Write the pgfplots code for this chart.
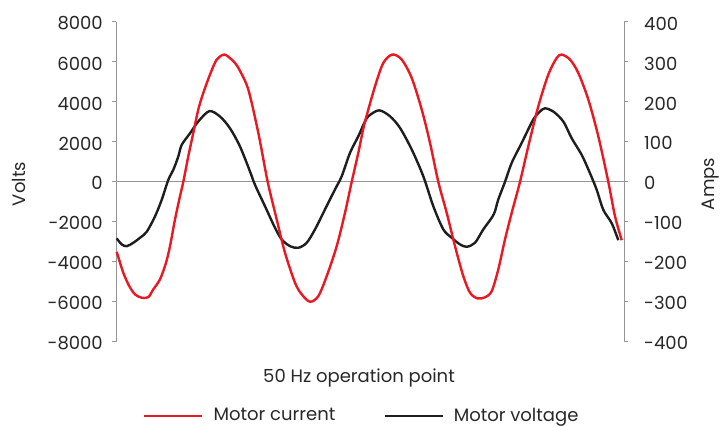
\documentclass[border=0pt]{standalone}
\usepackage{pgfplots}
\pgfplotsset{compat=1.18}
\usepackage{fontspec}
\setmainfont{Poppins}
\definecolor{abbred}{RGB}{232,25,35}
\definecolor{volt}{RGB}{30,30,30}
\definecolor{axgray}{RGB}{150,150,150}
\definecolor{txt}{RGB}{40,40,40}

\pgfplotstableread{
x v
116.7 -2830
121.7 -3130
126.7 -3220
133.3 -3050
140 -2800
146.7 -2500
155 -1730
161.7 -900
168.3 100
173.3 600
178.3 1270
181.7 1850
190 2430
198.3 3020
209.3 3540
220 3270
230 2680
240 1770
250 520
255 -150
265 -1220
275 -2300
281.7 -2880
290 -3220
298.3 -3300
306.7 -3050
315 -2380
325 -1380
335 -380
341.7 280
350 1450
358.3 2280
364.3 2950
368.3 3280
379 3580
390 3280
400 2700
411.7 1620
423.3 280
433.3 -1220
443.3 -2380
451.7 -2800
460 -3130
466.7 -3250
475 -3050
483.3 -2380
491.7 -1800
495 -1470
498.3 -880
505 0
511.7 950
521.7 1950
533.3 3120
540 3520
545 3680
553.3 3520
563.3 3020
571.7 2180
581.7 1350
590 430
596.7 -400
603.3 -1400
611.7 -2070
618.3 -2920
}\voltage

\pgfplotstableread{
x a
116.7 -175
123.3 -227.5
129.3 -261
135 -281.5
141.7 -290
148.3 -288.5
153.3 -269
160 -244
166 -202.5
170 -161
175 -94
180 -36
183.3 0
188.3 64
193.3 122.5
198.3 181
203.3 222.5
210 268.5
216.7 306
224.3 318.5
231.7 306
235 297.5
239.3 281
248.3 231
258.3 122.5
267.7 0
276.7 -94
285 -177.5
295 -252.5
301.7 -281.5
310 -300
318.3 -286
326.7 -236
336.7 -161
345 -77.5
351.7 0
358.3 72.5
364.3 143.5
375 239
383.3 297.5
392.3 318.5
401.7 306
411.7 260
421.7 181
430 97.5
438.3 0
446.7 -77.5
455 -161
463.3 -236
470 -277.5
477.3 -291.5
485 -289
491.7 -273.5
498.3 -219
505 -144
511.7 -77.5
520 0
528.3 89
538.3 189
548.3 268.5
556.7 310
561.7 318.5
570 306
578.3 272.5
588.3 206
598.3 114
608.3 0
615 -86
621.7 -146
}\current

\begin{document}
\fontsize{18bp}{21bp}\selectfont
\begin{tikzpicture}
\useasboundingbox (0,0) rectangle (720bp,427bp);
\pgfplotsset{base/.style={
  at={(116bp,85.3bp)}, anchor=south west, scale only axis,
  width=508bp, height=319.7bp,
  xmin=116, xmax=624, axis x line=none,
  tick align=outside, major tick length=4bp,
  axis line style={draw=axgray, line width=1bp, -},
  every tick/.style={axgray, line width=1bp},
  ticklabel style={font=\fontsize{18bp}{21bp}\selectfont, text=txt},
  clip=false
}}
\begin{axis}[base, axis y line*=left,
  ymin=-8000, ymax=8000,
  ytick={-8000,-6000,-4000,-2000,0,2000,4000,6000,8000},
  yticklabels={-8000,-6000,-4000,-2000,0,2000,4000,6000,8000},
  yticklabel style={anchor=east, xshift=-3bp, yshift=-1.5bp}]
\addplot[axgray, line width=1bp] coordinates {(116,0) (624,0)};
\addplot[volt, line width=2.4bp, smooth] table[x=x, y=v] {\voltage};
\end{axis}
\begin{axis}[base, axis y line*=right,
  ymin=-400, ymax=400,
  ytick={-400,-300,-200,-100,0,100,200,300,400},
  yticklabels={-400,-300,-200,-100,0,100,200,300,400},
  yticklabel style={anchor=west, xshift=10bp, yshift=-1.5bp},
  legend style={at={(0.482,-0.232)}, anchor=center, draw=none, fill=none,
    legend columns=2, font=\fontsize{18bp}{21bp}\selectfont, text=txt,
    nodes={inner sep=0pt},
    /tikz/every odd column/.append style={column sep=10bp},
    /tikz/every even column/.append style={column sep=48bp}},
  legend image code/.code={\draw[#1, line width=2.4bp] (0bp,0bp) -- (58bp,0bp);}]
\addplot[abbred, line width=2.4bp, smooth] table[x=x, y=a] {\current};
\addlegendentry{Motor current}
\addlegendimage{volt, line width=2.4bp}
\addlegendentry{Motor voltage}
\end{axis}
\node[anchor=base, text=txt] at (359bp,44.3bp) {50 Hz operation point};
\node[rotate=90, anchor=base, text=txt] at (25bp,243bp) {Volts};
\node[rotate=90, anchor=base, text=txt] at (714bp,243bp) {Amps};
\end{tikzpicture}
\end{document}
